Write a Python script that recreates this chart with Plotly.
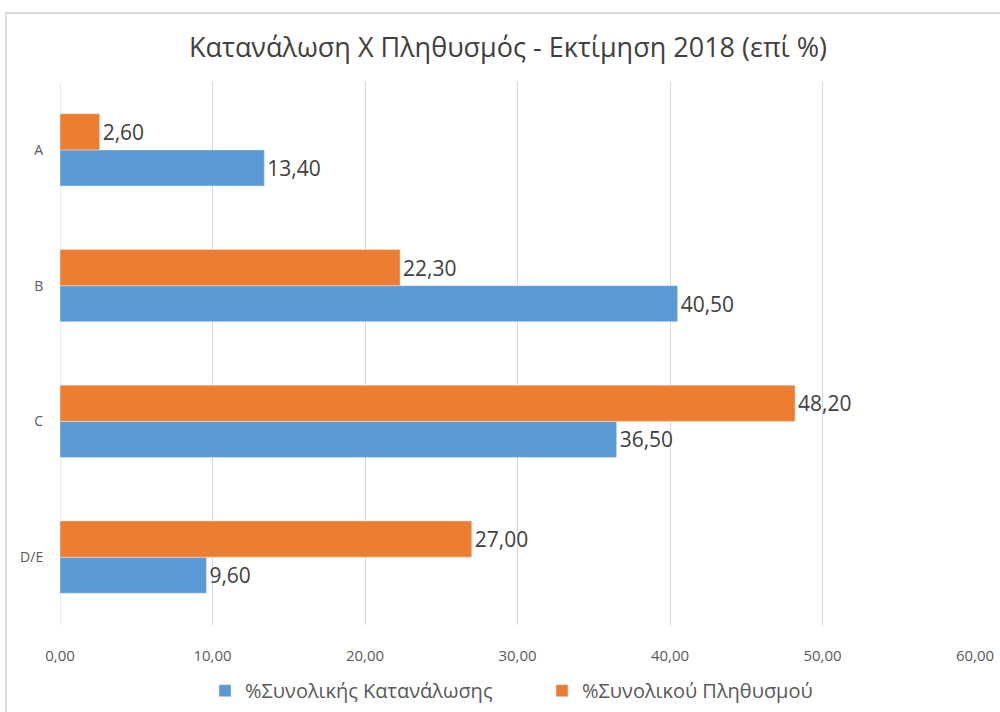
import plotly.graph_objects as go

categories = ["A", "B", "C", "D/E"]
consumption = [13.40, 40.50, 36.50, 9.60]
population = [2.60, 22.30, 48.20, 27.00]
series_names = ["%Συνολικής Κατανάλωσης", "%Συνολικού Πληθυσμού"]
x_ticks = [0, 10, 20, 30, 40, 50, 60]

FONT = "Open Sans"

fig = go.Figure()
fig.add_trace(go.Bar(
    y=categories, x=consumption, orientation="h", name=series_names[0],
    marker_color="#5B9BD5", texttemplate="%{x:.2f}", textposition="outside",
    textfont=dict(size=21, color="#404040", family=FONT), cliponaxis=False,
))
fig.add_trace(go.Bar(
    y=categories, x=population, orientation="h", name=series_names[1],
    marker_color="#ED7D31", texttemplate="%{x:.2f}", textposition="outside",
    textfont=dict(size=21, color="#404040", family=FONT), cliponaxis=False,
))

fig.update_layout(
    width=1000, height=712,
    paper_bgcolor="white", plot_bgcolor="white",
    separators=",.",
    barmode="group", bargap=0.467, bargroupgap=0,
    margin=dict(l=60, r=25, t=82, b=87, autoexpand=False),
    font=dict(family=FONT, color="#595959"),
    title=dict(text="Κατανάλωση Χ Πληθυσμός - Εκτίμηση 2018 (επί %)",
               x=0.508, xanchor="center", y=0.933, yanchor="middle",
               xref="container", yref="container",
               font=dict(size=27, color="#404040", family=FONT)),
    xaxis=dict(range=[0, 60], tickvals=x_ticks, tickformat=".2f",
               showgrid=True, gridcolor="#D9D9D9", gridwidth=1,
               zeroline=False, showline=False,
               ticks="outside", ticklen=0, ticklabelstandoff=17,
               tickfont=dict(size=15, color="#595959", family=FONT)),
    yaxis=dict(categoryorder="array", categoryarray=categories[::-1],
               showgrid=False, zeroline=False, showline=False,
               ticks="outside", ticklen=0, ticklabelstandoff=13,
               tickfont=dict(size=14, color="#595959", family=FONT)),
    legend=dict(orientation="h", x=0.205, xanchor="left", xref="container",
                y=0.03, yanchor="middle", yref="container",
                font=dict(size=20, color="#595959", family=FONT),
                entrywidth=292, entrywidthmode="pixels",
                itemwidth=30, tracegroupgap=0),
    showlegend=True,
)

fig.add_shape(type="line", xref="x", yref="paper", x0=0, x1=0, y0=0, y1=1,
              line=dict(color="#D9D9D9", width=1), layer="below")
fig.add_shape(type="rect", xref="paper", yref="paper",
              x0=(6 - 60) / 915, x1=(1010 - 60) / 915,
              y0=(625 - 720) / 543, y1=(625 - 13) / 543,
              line=dict(color="#D0D0D0", width=1.5), fillcolor="rgba(0,0,0,0)",
              layer="below")

fig.write_html(
    "out.html",
    config={"displayModeBar": False},
    post_script="document.body.style.margin='0';document.body.style.padding='0';",
)
